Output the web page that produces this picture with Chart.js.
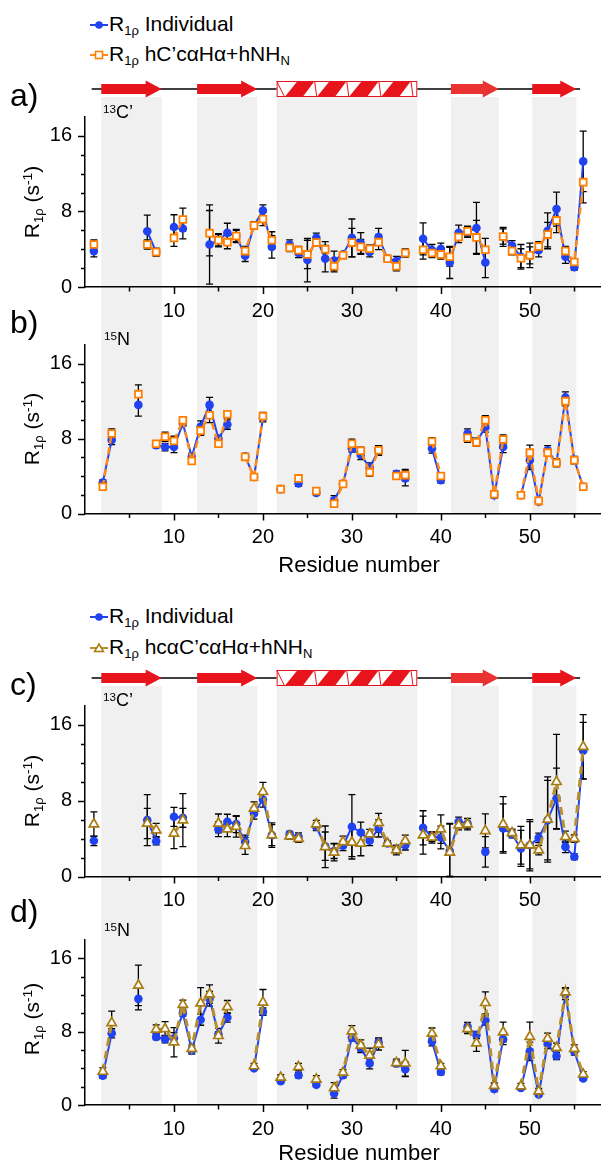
<!DOCTYPE html>
<html><head><meta charset="utf-8">
<script src="https://cdn.jsdelivr.net/npm/chart.js@4.4.1/dist/chart.umd.min.js"></script>
<style>
html,body{margin:0;padding:0;background:#fff;}
body{width:601px;height:1163px;position:relative;overflow:hidden;font-family:"Liberation Sans",Arial,sans-serif;color:#000;}
canvas{position:absolute;left:0;}
.t{position:absolute;white-space:nowrap;line-height:1;transform:translateY(-50%);z-index:5;}
.sub{font-size:0.62em;vertical-align:-0.35em;}
.sup{font-size:0.65em;vertical-align:0.5em;}
.yt{position:absolute;white-space:nowrap;line-height:1;font-size:21px;transform:translate(-50%,-50%) rotate(-90deg);z-index:5;}
.xt{position:absolute;white-space:nowrap;line-height:1;font-size:22px;transform:translate(-50%,-50%);z-index:5;}
svg.mk{position:absolute;z-index:5;}
</style></head><body>

<svg class="mk" style="left:90px;top:19px" width="18" height="12"><line x1="0" y1="6" x2="18" y2="6" stroke="#2142f0" stroke-width="2"/><circle cx="9" cy="6" r="3.8" fill="#2142f0"/></svg>
<div class="t" style="left:109px;top:25px;font-size:21px">R<span class="sub">1ρ</span> Individual</div>
<svg class="mk" style="left:90px;top:49px" width="18" height="12"><line x1="0" y1="6" x2="18" y2="6" stroke="#ff8a1c" stroke-width="2"/><rect x="5.5" y="2.5" width="7" height="7" fill="#fff" stroke="#ff7f00" stroke-width="1.6"/></svg>
<div class="t" style="left:109px;top:55px;font-size:21px">R<span class="sub">1ρ</span> hC’cαHα+hNH<span class="sub">N</span></div>

<svg class="mk" style="left:90px;top:611px" width="18" height="12"><line x1="0" y1="6" x2="18" y2="6" stroke="#2142f0" stroke-width="2"/><circle cx="9" cy="6" r="3.8" fill="#2142f0"/></svg>
<div class="t" style="left:109px;top:617px;font-size:21px">R<span class="sub">1ρ</span> Individual</div>
<svg class="mk" style="left:90px;top:642px" width="18" height="12"><line x1="0" y1="6" x2="18" y2="6" stroke="#b8902f" stroke-width="2"/><polygon points="9,2 13.5,9.5 4.5,9.5" fill="#fff" stroke="#a97c12" stroke-width="1.5"/></svg>
<div class="t" style="left:109px;top:648px;font-size:21px">R<span class="sub">1ρ</span> hcαC’cαHα+hNH<span class="sub">N</span></div>

<div class="t" style="left:10px;top:95px;font-size:32px">a)</div>
<div class="t" style="left:10px;top:322px;font-size:32px">b)</div>
<div class="t" style="left:10px;top:684px;font-size:32px">c)</div>
<div class="t" style="left:10px;top:911px;font-size:32px">d)</div>

<div class="t" style="left:103px;top:112px;font-size:18px"><span class="sup">13</span>C’</div>
<div class="t" style="left:104px;top:339px;font-size:18px"><span class="sup">15</span>N</div>
<div class="t" style="left:103px;top:700px;font-size:18px"><span class="sup">13</span>C’</div>
<div class="t" style="left:104px;top:930px;font-size:18px"><span class="sup">15</span>N</div>

<div class="yt" style="left:33px;top:202px">R<span class="sub">1ρ</span> (s<span class="sup">-1</span>)</div>
<div class="yt" style="left:33px;top:429px">R<span class="sub">1ρ</span> (s<span class="sup">-1</span>)</div>
<div class="yt" style="left:33px;top:791px">R<span class="sub">1ρ</span> (s<span class="sup">-1</span>)</div>
<div class="yt" style="left:33px;top:1019px">R<span class="sub">1ρ</span> (s<span class="sup">-1</span>)</div>

<div class="xt" style="left:359px;top:565px">Residue number</div>
<div class="xt" style="left:359px;top:1153px">Residue number</div>

<canvas id="cA" width="601" height="243" style="top:75px;width:601px;height:243px"></canvas>
<canvas id="cB" width="601" height="240" style="top:318px;width:601px;height:240px"></canvas>
<canvas id="cC" width="601" height="250" style="top:665px;width:601px;height:250px"></canvas>
<canvas id="cD" width="601" height="240" style="top:915px;width:601px;height:240px"></canvas>

<script>
const residues = [1,2,3,4,5,6,7,8,9,10,11,12,13,14,15,16,17,18,19,20,21,22,23,24,25,26,27,28,29,30,31,32,33,34,35,36,37,38,39,40,41,42,43,44,45,46,47,48,49,50,51,52,53,54,55,56];
const xTicksMajor = [10,20,30,40,50];
const yTicksMajor = [0,8,16];
const strands = [[1.83,8.62],[12.6,19.35],[41.13,46.51],[50.27,55.22]];
const helix = [21.54,37.35];
const ssLine = [0.75,55.65];

// Panel a: 13C'
const indivC = [3.8,null,null,null,null,null,5.9,3.7,null,6.35,
 6.2,null,null,4.5,4.95,5.75,5.4,3.3,6.5,8.1,
 4.25,null,4.5,3.6,2.85,5.2,3.0,2.8,3.45,5.2,
 4.65,3.7,5.3,3.0,2.75,3.6,null,5.1,3.9,4.05,
 2.6,5.75,5.85,6.25,2.6,null,5.3,4.4,3.2,3.35,
 3.9,5.95,8.25,3.2,2.1,13.3];
const indivCErr = [0.6,null,null,null,null,null,1.7,0.4,null,1.3,
 1.1,null,null,4.2,0.7,1.0,0.7,0.6,0.4,0.6,
 1.2,null,0.5,0.5,2.3,0.5,1.4,1.0,0.3,2.0,
 1.1,0.5,0.9,0.3,0.5,0.4,null,1.7,0.6,0.6,
 1.7,0.8,0.6,2.7,1.6,null,1.0,0.5,1.3,1.3,
 0.7,1.9,1.8,0.7,0.3,3.2];
const hCcaHaC = [4.5,null,null,null,null,null,4.5,3.7,null,5.2,
 7.15,null,null,5.7,4.95,4.75,5.4,3.8,6.5,7.2,
 4.95,null,4.15,3.9,3.45,4.7,4.0,2.2,3.35,4.7,
 4.25,4.05,4.75,3.0,2.2,3.6,null,3.95,3.6,3.45,
 3.2,5.3,5.9,5.25,3.95,null,5.35,3.8,3.05,3.35,
 4.3,5.55,7.05,3.8,2.65,11.1];
const hCcaHaCErr = [0.5,null,null,null,null,null,0.5,0.4,null,0.9,
 1.2,null,null,2.4,0.6,0.7,0.6,0.5,0.4,0.7,
 0.9,null,0.4,0.4,1.5,0.4,0.8,0.6,0.3,1.5,
 0.8,0.4,0.8,0.3,0.5,0.4,null,1.0,0.5,0.5,
 1.0,0.6,0.5,1.8,1.2,null,0.8,0.4,1.0,0.9,
 0.5,1.3,1.3,0.5,0.3,2.2];

// Panel b: 15N
const indivN = [null,3.3,7.85,null,null,11.6,null,7.3,7.1,7.1,
 9.6,6.05,9.3,11.6,8.0,9.5,null,6.1,3.9,10.2,
 null,2.6,null,3.2,null,2.2,null,1.4,3.2,6.95,
 6.25,4.9,6.75,null,4.25,3.75,null,null,6.95,3.55,
 null,null,8.55,7.65,9.2,1.95,7.1,null,1.95,5.7,
 1.25,6.75,5.4,12.4,5.7,2.85];
const indivNErr = [null,0.3,0.5,null,null,1.2,null,0.3,0.4,0.6,
 0.3,0.4,0.6,0.8,0.3,0.5,null,0.2,0.2,0.4,
 null,0.2,null,0.3,null,0.2,null,0.5,0.3,0.4,
 0.5,0.5,0.5,null,0.3,0.8,null,null,0.5,0.3,
 null,null,0.5,0.4,0.5,0.3,0.6,null,0.2,1.0,
 0.2,0.5,0.4,0.6,0.4,0.2];
const hCcaHaN = [null,2.85,8.55,null,null,12.75,null,7.45,8.2,7.75,
 9.95,5.6,8.85,10.5,7.45,10.6,null,6.05,3.9,10.4,
 null,2.6,null,3.75,null,2.4,null,1.05,3.15,7.45,
 6.7,4.4,6.75,null,4.0,4.1,null,null,7.7,4.0,
 null,null,8.1,7.6,9.95,2.05,7.9,null,1.95,6.5,
 1.35,6.5,5.4,12.0,5.7,2.85];
const hCcaHaNErr = [null,0.2,0.5,null,null,1.0,null,0.3,0.5,0.5,
 0.3,0.3,0.5,0.8,0.3,0.4,null,0.2,0.2,0.4,
 null,0.2,null,0.3,null,0.2,null,0.4,0.2,0.5,
 0.4,0.4,0.5,null,0.3,0.6,null,null,0.4,0.3,
 null,null,0.5,0.4,0.5,0.3,0.5,null,0.2,0.8,
 0.2,0.4,0.4,0.5,0.3,0.2];

// Panel c: 13C'
const indivC2 = [3.77,null,null,null,null,null,5.95,3.73,null,6.3,
 6.2,null,null,null,5.0,5.77,5.53,3.66,6.65,8.13,
 4.37,null,4.47,4.2,null,5.25,3.2,2.7,3.24,5.25,
 4.65,3.77,5.07,3.49,2.89,3.3,null,5.14,4.19,4.12,
 2.7,5.77,5.6,null,2.6,null,5.07,4.47,2.96,3.3,
 4.08,5.95,8.24,3.13,2.08,13.27];
const indivC2Err = [0.5,null,null,null,null,null,2.7,0.4,null,1.0,
 1.0,null,null,null,0.8,0.8,0.9,0.7,0.6,0.8,
 1.1,null,0.3,0.4,null,0.4,1.5,0.8,0.5,3.4,
 1.1,0.5,0.9,0.3,0.4,0.5,null,1.8,0.5,1.2,
 2.9,0.5,0.5,null,1.6,null,2.6,0.4,1.9,2.5,
 0.5,4.2,3.2,0.6,0.3,3.0];
const hcaCcaHaC = [5.53,null,null,null,null,null,5.6,4.9,null,4.54,
 5.95,null,null,null,5.6,5.0,5.25,3.24,7.18,8.94,
 4.37,null,4.26,4.0,null,5.53,3.13,2.54,3.66,3.6,
 3.49,4.47,5.67,3.49,2.78,3.77,null,4.37,4.12,5.0,
 2.54,5.42,5.53,null,4.82,null,5.53,4.61,3.3,3.3,
 2.78,6.02,10.0,4.19,4.0,13.7];
const hcaCcaHaCErr = [1.3,null,null,null,null,null,1.6,0.7,null,1.6,
 2.8,null,null,null,1.0,0.8,1.1,0.9,0.7,1.0,
 1.3,null,0.3,0.4,null,0.4,2.2,0.9,0.6,1.5,
 1.3,0.5,1.0,0.3,0.5,0.6,null,2.0,0.6,1.5,
 3.0,0.5,0.6,null,1.8,null,2.9,0.4,2.0,2.7,
 0.5,4.5,5.0,0.6,0.4,3.4];

// Panel d: 15N
const indivN2 = [null,3.2,7.82,null,null,11.58,null,7.43,7.18,7.29,
 10.0,5.95,9.3,11.58,7.71,9.54,null,null,4.0,10.18,
 null,2.6,null,3.25,null,2.2,null,1.25,3.25,7.36,
 6.23,4.54,6.83,null,4.54,3.9,null,null,6.94,3.6,
 null,null,8.52,7.64,9.23,1.75,7.18,null,1.85,5.85,
 1.15,6.65,5.35,12.11,5.85,2.9];
const indivN2Err = [null,0.3,0.5,null,null,1.2,null,0.3,0.4,0.6,
 0.3,0.4,0.6,0.8,0.3,0.5,null,null,0.2,0.4,
 null,0.2,null,0.3,null,0.2,null,0.5,0.3,0.4,
 0.5,0.6,0.5,null,0.3,0.8,null,null,0.5,0.3,
 null,null,0.5,0.4,0.5,0.3,0.6,null,0.2,1.0,
 0.2,0.5,0.4,0.6,0.4,0.2];
const hcaCcaHaN = [null,3.65,8.95,null,null,13.05,null,8.25,8.3,6.85,
 10.95,6.15,11.1,12.1,7.55,10.7,null,null,4.25,11.2,
 null,3.0,null,4.15,null,2.8,null,1.85,3.55,8.05,
 6.5,5.4,6.6,null,4.6,4.55,null,null,7.8,4.25,
 null,null,8.3,6.75,11.15,2.1,7.95,null,2.05,7.45,
 1.5,7.25,6.25,12.3,6.15,3.35];
const hcaCcaHaNErr = [null,0.4,1.3,null,null,2.2,null,0.5,0.8,1.6,
 0.5,0.4,1.7,1.0,0.8,0.7,null,null,0.3,1.4,
 null,0.3,null,0.4,null,0.4,null,0.6,0.3,0.6,
 0.6,0.8,0.6,null,0.4,1.4,null,null,0.6,0.3,
 null,null,0.5,0.9,1.2,0.3,1.1,null,0.3,1.6,
 0.3,0.6,0.5,0.5,0.4,0.3];

const BLUE = '#2142f0';
const toXY = vals => residues.map((r, i) => ({x: r, y: vals[i]}));

function blueSet(vals, errs) {
  return {data: toXY(vals), errors: errs, borderColor: BLUE, backgroundColor: BLUE,
    borderWidth: 2, pointStyle: 'circle', pointRadius: 4.3, pointBorderWidth: 0,
    pointBackgroundColor: BLUE, spanGaps: false, clip: false, order: 2};
}
function orangeSet(vals, errs) {
  return {data: toXY(vals), errors: errs, borderColor: '#ff8a1c', borderDash: [7, 4],
    borderWidth: 2.5, pointStyle: 'rect', pointRadius: 4.8, pointBorderWidth: 1.8,
    pointBackgroundColor: '#fff', pointBorderColor: '#ff7f00', spanGaps: false, clip: false, order: 1};
}
function goldSet(vals, errs) {
  return {data: toXY(vals), errors: errs, borderColor: '#b8902f', borderDash: [8, 5],
    borderWidth: 3, pointStyle: 'triangle', pointRadius: 5.4, pointBorderWidth: 1.7,
    pointBackgroundColor: '#fff', pointBorderColor: '#a97c12', spanGaps: false, clip: false, order: 1};
}

const bandsPlugin = {
  id: 'bands',
  beforeDraw(chart, args, opts) {
    const {ctx, scales: {x}} = chart;
    const top = opts.top;
    const bottom = opts.toArea ? chart.chartArea.bottom : chart.height;
    ctx.save();
    ctx.fillStyle = '#f0f0f0';
    const ranges = strands.concat([helix]);
    ranges.forEach(([a, b]) => {
      const x0 = x.getPixelForValue(a), x1 = x.getPixelForValue(b);
      ctx.fillRect(x0, top, x1 - x0, bottom - top);
    });
    ctx.restore();
  }
};

const ssPlugin = {
  id: 'ssbar',
  afterDraw(chart, args, opts) {
    if (opts.y == null) return;
    const {ctx, scales: {x}} = chart;
    const y = opts.y;
    ctx.save();
    ctx.strokeStyle = '#000'; ctx.lineWidth = 1.5;
    ctx.beginPath();
    ctx.moveTo(x.getPixelForValue(ssLine[0]), y);
    ctx.lineTo(x.getPixelForValue(ssLine[1]), y);
    ctx.stroke();
    strands.forEach(([a, b], i) => {
      const x0 = x.getPixelForValue(a), x1 = x.getPixelForValue(b);
      const head = 16, bh = 5, hh = 8.5;
      ctx.fillStyle = i === 2 ? '#ea3232' : '#e8141c';
      ctx.beginPath();
      ctx.moveTo(x0, y - bh); ctx.lineTo(x1 - head, y - bh); ctx.lineTo(x1 - head, y - hh);
      ctx.lineTo(x1, y); ctx.lineTo(x1 - head, y + hh); ctx.lineTo(x1 - head, y + bh);
      ctx.lineTo(x0, y + bh); ctx.closePath(); ctx.fill();
    });
    // helix
    const h0 = x.getPixelForValue(helix[0]), h1 = x.getPixelForValue(helix[1]);
    const T = y - 8, B = y + 8;
    ctx.fillStyle = '#fff';
    ctx.fillRect(h0, T, h1 - h0, B - T);
    ctx.strokeStyle = '#e8141c'; ctx.lineWidth = 1;
    ctx.strokeRect(h0 + 0.5, T + 0.5, h1 - h0 - 1, B - T - 1);
    const per = (h1 - h0 - 9) / 4.1;
    ctx.fillStyle = '#e8141c';
    for (let k = 0; k < 4; k++) {
      const s = h0 + 8 + k * per;
      ctx.beginPath();
      ctx.moveTo(s, B); ctx.lineTo(s + 13, T); ctx.lineTo(s + 30, T); ctx.lineTo(s + 18, B);
      ctx.closePath(); ctx.fill();
      ctx.beginPath();
      ctx.moveTo(s + 30, T); ctx.lineTo(Math.min(s + per, h1), B);
      ctx.stroke();
    }
    ctx.beginPath(); ctx.moveTo(h0, T); ctx.lineTo(h0 + 8, B); ctx.stroke();
    ctx.restore();
  }
};

const errPlugin = {
  id: 'errbars',
  beforeDatasetsDraw(chart) {
    const {ctx, scales: {x, y}} = chart;
    ctx.save();
    ctx.strokeStyle = '#000'; ctx.lineWidth = 1.3;
    chart.data.datasets.forEach(ds => {
      if (!ds.errors) return;
      ds.data.forEach((p, i) => {
        const e = ds.errors[i];
        if (p.y == null || e == null) return;
        const px = x.getPixelForValue(p.x);
        const yt = y.getPixelForValue(p.y + e), yb = y.getPixelForValue(Math.max(0, p.y - e));
        ctx.beginPath();
        ctx.moveTo(px, yt); ctx.lineTo(px, yb);
        ctx.moveTo(px - 3.5, yt); ctx.lineTo(px + 3.5, yt);
        ctx.moveTo(px - 3.5, yb); ctx.lineTo(px + 3.5, yb);
        ctx.stroke();
      });
    });
    ctx.restore();
  }
};

const tickPlugin = {
  id: 'minorticks',
  afterDraw(chart) {
    const {ctx, scales: {x, y}, chartArea: ca} = chart;
    ctx.save();
    ctx.strokeStyle = '#000'; ctx.lineWidth = 1.5;
    ctx.beginPath();
    for (let v = 5; v <= 55; v += 5) {
      const px = Math.round(x.getPixelForValue(v)) + 0.5;
      const len = xTicksMajor.includes(v) ? 7 : 4.5;
      ctx.moveTo(px, ca.bottom); ctx.lineTo(px, ca.bottom + len);
    }
    for (let v = 0; v <= 16; v += 2) {
      const py = Math.round(y.getPixelForValue(v)) + 0.5;
      const len = yTicksMajor.includes(v) ? 7 : 4;
      ctx.moveTo(ca.left, py); ctx.lineTo(ca.left - len, py);
    }
    ctx.stroke();
    ctx.restore();
  }
};

function makeChart(id, datasets, padTop, xH, bandTop, bandToArea, ssY) {
  return new Chart(document.getElementById(id), {
    type: 'line',
    data: {datasets},
    plugins: [bandsPlugin, errPlugin, tickPlugin, ssPlugin],
    options: {
      responsive: false, animation: false, devicePixelRatio: 1,
      layout: {padding: {top: padTop, left: 0, right: 0, bottom: 0}, autoPadding: false},
      plugins: {legend: {display: false}, tooltip: {enabled: false},
        bands: {top: bandTop, toArea: bandToArea}, ssbar: {y: ssY}},
      scales: {
        x: {type: 'linear', min: 0, max: 58,
          afterFit: s => { s.height = xH; },
          afterBuildTicks: s => { s.ticks = xTicksMajor.map(v => ({value: v})); },
          grid: {display: false, drawTicks: false},
          border: {display: true, color: '#000', width: 1.5},
          ticks: {padding: 12, color: '#000', maxRotation: 0, autoSkip: false,
            font: {family: '"Liberation Sans", Arial, sans-serif', size: 20}}},
        y: {type: 'linear', min: 0, max: 18,
          afterFit: s => { s.width = 85; },
          afterBuildTicks: s => { s.ticks = yTicksMajor.map(v => ({value: v})); },
          grid: {display: false, drawTicks: false},
          border: {display: true, color: '#000', width: 1.5},
          ticks: {padding: 13, color: '#000',
            font: {family: '"Liberation Sans", Arial, sans-serif', size: 20}}}
      }
    }
  });
}

makeChart('cA', [blueSet(indivC, indivCErr), orangeSet(hCcaHaC, hCcaHaCErr)], 42, 31, 22, false, 14);
makeChart('cB', [blueSet(indivN, indivNErr), orangeSet(hCcaHaN, hCcaHaNErr)], 27, 44.5, 0, true, null);
makeChart('cC', [blueSet(indivC2, indivC2Err), goldSet(hcaCcaHaC, hcaCcaHaCErr)], 41, 38.5, 21, false, 13);
makeChart('cD', [blueSet(indivN2, indivN2Err), goldSet(hcaCcaHaN, hcaCcaHaNErr)], 19, 50, 0, true, null);
</script>
</body></html>
